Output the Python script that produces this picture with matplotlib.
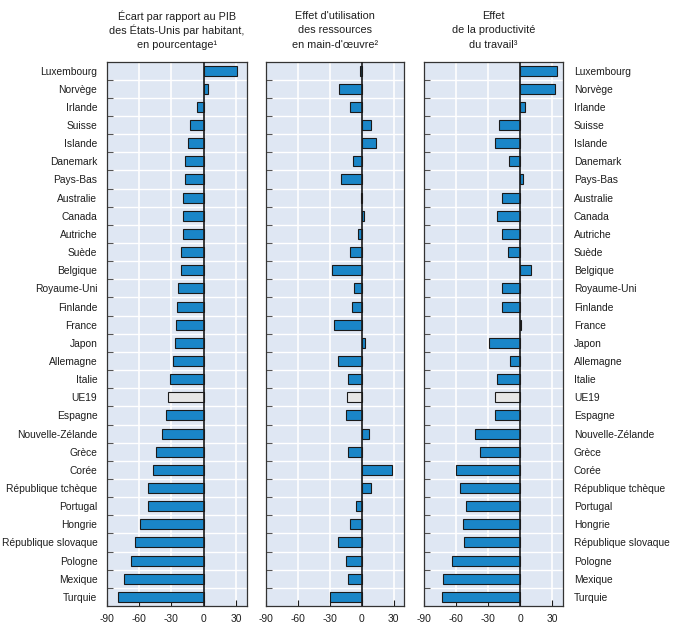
import matplotlib
matplotlib.use("Agg")
import matplotlib.pyplot as plt
import numpy as np

countries = ["Luxembourg", "Norvège", "Irlande", "Suisse", "Islande", "Danemark",
             "Pays-Bas", "Australie", "Canada", "Autriche", "Suède", "Belgique",
             "Royaume-Uni", "Finlande", "France", "Japon", "Allemagne", "Italie",
             "UE19", "Espagne", "Nouvelle-Zélande", "Grèce", "Corée",
             "République tchèque", "Portugal", "Hongrie", "République slovaque",
             "Pologne", "Mexique", "Turquie"]

gap_gdp = [31, 4, -6, -13, -14.5, -17.5, -17.5, -19, -19, -19.5, -21.5, -21.5,
           -24, -25, -26, -27, -29, -31, -33, -35.5, -38.5, -44.5, -47.5,
           -52, -52, -59.5, -63.5, -68, -74, -80]
labour_util = [-2, -21, -10.5, 8.5, 13.5, -8.5, -19.5, -1, 2, -3, -11, -28,
               -7, -9.5, -26, 3, -22, -12.5, -13.5, -15, 6.5, -12.5, 28,
               8.5, -5, -11, -22, -15, -12.5, -30]
labour_prod = [34.5, 32.5, 4.5, -20, -24, -10.5, 3, -17, -21.5, -17, -11.5, 10,
               -17, -17, 1, -29.5, -9.5, -21.5, -23.5, -24, -42.5, -37.5, -60.5,
               -56.5, -51, -54, -53, -64, -72, -73.5]

titles = [["Écart par rapport au PIB", "des États-Unis par habitant,", "en pourcentage¹"],
          ["Effet d'utilisation", "des ressources", "en main-d'œuvre²"],
          ["Effet", "de la productivité", "du travail³"]]
xticks = [-90, -60, -30, 0, 30]
highlight = "UE19"

BG = "#DFE7F3"
BLUE = "#1A86C8"
GREY = "#E6E6E6"
EDGE = "#1A1A1A"
TXT = "#1E1E1E"

plt.rcParams["font.family"] = ["Liberation Sans", "DejaVu Sans"]

W, H = 674, 634
fig = plt.figure(figsize=(W / 100, H / 100), dpi=100)

panels_px = [(107, 246.7), (265.7, 404.3), (424.3, 562.7)]
top_px, bot_px = 61.5, 606
series = [gap_gdp, labour_util, labour_prod]
n = len(countries)
ypos = np.arange(n)
FS = 7.4

for i, ((x0, x1), vals) in enumerate(zip(panels_px, series)):
    ax = fig.add_axes([x0 / W, (H - bot_px) / H, (x1 - x0) / W, (bot_px - top_px) / H])
    ax.set_facecolor(BG)
    colors = [GREY if c == highlight else BLUE for c in countries]
    ax.barh(ypos, vals, height=0.55, color=colors, edgecolor=EDGE, linewidth=0.8, zorder=3)
    ax.set_xlim(-90, 40)
    ax.set_ylim(n - 0.5, -0.5)
    ax.set_xticks(xticks)
    ax.set_xticklabels([str(t) for t in xticks], fontsize=FS, color=TXT)
    ax.tick_params(axis="x", direction="in", length=4, width=0.8, color=EDGE, pad=6)
    ax.set_yticks(ypos)
    ax.set_yticks(np.arange(n - 1) + 0.5, minor=True)
    ax.tick_params(axis="y", which="major", length=0)
    ax.tick_params(axis="y", which="minor", direction="in", length=4, width=0.8, color="#555555")
    for xv in [-60, -30, 30]:
        ax.axvline(xv, color="white", lw=1.2, zorder=1)
    for yv in np.arange(n - 1) + 0.5:
        ax.axhline(yv, color="white", lw=1.0, zorder=1)
    ax.axvline(0, color=EDGE, lw=1.2, zorder=4)
    for s in ax.spines.values():
        s.set_color("#333333")
        s.set_linewidth(0.9)
    if i == 0:
        ax.set_yticklabels(countries, fontsize=FS, color=TXT)
        ax.tick_params(axis="y", which="major", pad=7)
    elif i == 2:
        ax.yaxis.tick_right()
        ax.tick_params(axis="y", which="minor", left=True, right=False, direction="in",
                       length=4, width=0.8, color="#555555")
        ax.tick_params(axis="y", which="major", length=0, pad=8)
        ax.set_yticklabels(countries, fontsize=FS, color=TXT)
    else:
        ax.set_yticklabels([])
    xc = (x0 + x1) / 2 / W
    for k, line in enumerate(titles[i]):
        fig.text(xc, 1 - (16 + 14.3 * k) / H, line, ha="center", va="center",
                 fontsize=7.8, color=TXT)

fig.savefig("out.png", dpi=100)
